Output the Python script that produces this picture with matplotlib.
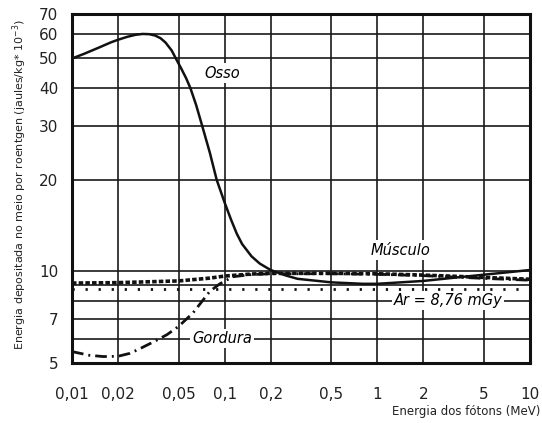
import matplotlib
matplotlib.use("Agg")
import matplotlib.pyplot as plt
from matplotlib.ticker import FixedLocator, FixedFormatter, NullLocator

# ---- data ----
osso_x = [0.01, 0.012, 0.015, 0.018, 0.02, 0.023, 0.026, 0.029, 0.032, 0.035, 0.038,
          0.041, 0.045, 0.0485, 0.052, 0.056, 0.0596, 0.065, 0.0713, 0.08, 0.0886,
          0.1, 0.11, 0.12, 0.13, 0.15, 0.17, 0.2, 0.25, 0.3, 0.5, 0.8, 1, 2, 3, 5, 10]
osso_y = [50, 51.8, 54.3, 56.5, 57.6, 58.9, 59.8, 60.2, 60.1, 59.5, 58.3,
          56.4, 53.1, 49.4, 46.3, 43, 40, 35.2, 30, 24.5, 20,
          16.8, 14.8, 13.3, 12.3, 11.2, 10.6, 10.1, 9.7, 9.45, 9.2, 9.1, 9.1, 9.3, 9.5, 9.75, 10.1]

musc_x = [0.01, 0.02, 0.05, 0.08, 0.1, 0.15, 0.2, 0.5, 1, 2, 5, 10]
musc_y = [9.15, 9.18, 9.3, 9.5, 9.65, 9.8, 9.85, 9.85, 9.82, 9.72, 9.55, 9.42]

gord_x = [0.01, 0.013, 0.016, 0.02, 0.024, 0.028, 0.035, 0.042, 0.05, 0.062, 0.08, 0.093,
          0.113, 0.15, 0.2, 0.5, 1, 2, 5, 10]
gord_y = [5.45, 5.3, 5.25, 5.26, 5.38, 5.58, 5.9, 6.2, 6.6, 7.3, 8.6, 9.1,
          9.6, 9.76, 9.82, 9.82, 9.78, 9.68, 9.48, 9.35]

ar_value = 8.76

x_ticks = [0.01, 0.02, 0.05, 0.1, 0.2, 0.5, 1, 2, 5, 10]
x_labels = ["0,01", "0,02", "0,05", "0,1", "0,2", "0,5", "1", "2", "5", "10"]
y_ticks = [5, 7, 10, 20, 30, 40, 50, 60, 70]
y_labels = ["5", "7", "10", "20", "30", "40", "50", "60", "70"]
y_grid = [6, 7, 8, 9, 10, 20, 30, 40, 50, 60]
x_grid = [0.02, 0.05, 0.1, 0.2, 0.5, 1, 2, 5]

plt.rcParams['font.family'] = ['DejaVu Sans']

fig = plt.figure(figsize=(5.42, 4.23), dpi=100)
ax = fig.add_axes([72/542, 60/423, 458/542, 349/423])
ax.set_xscale('log')
ax.set_yscale('log')
ax.set_xlim(0.01, 10)
ax.set_ylim(5, 70)

for g in y_grid:
    ax.axhline(g, color='#1a1a1a', lw=1.2, zorder=1)
for g in x_grid:
    ax.axvline(g, color='#1a1a1a', lw=1.2, zorder=1)

ax.plot(osso_x, osso_y, color='#111111', lw=1.8, zorder=3, solid_joinstyle='round')
ax.plot(musc_x, musc_y, color='#111111', lw=2.6, linestyle=(0, (1.25, 0.6)), zorder=3)
ax.plot(gord_x, gord_y, color='#111111', lw=2.0, linestyle=(0, (4.2, 1.8, 0.7, 1.8)), zorder=3)
ax.axhline(ar_value, color='#111111', lw=2.0, linestyle=(0, (0.8, 3.9)), zorder=3)

ax.xaxis.set_major_locator(FixedLocator(x_ticks))
ax.xaxis.set_major_formatter(FixedFormatter(x_labels))
ax.xaxis.set_minor_locator(NullLocator())
ax.yaxis.set_major_locator(FixedLocator(y_ticks))
ax.yaxis.set_major_formatter(FixedFormatter(y_labels))
ax.yaxis.set_minor_locator(NullLocator())
ax.tick_params(axis='both', length=0, labelsize=11, colors='#222222')
ax.tick_params(axis='x', pad=17)
ax.tick_params(axis='y', pad=10)

for s in ax.spines.values():
    s.set_linewidth(2.2)
    s.set_color('#111111')

box = dict(facecolor='white', edgecolor='none', pad=1.5)
ax.text(0.097, 44.8, "Osso", style='italic', fontsize=10.5, ha='center', va='center', bbox=box, zorder=4)
ax.text(1.41, 11.75, "Músculo", style='italic', fontsize=10.5, ha='center', va='center', bbox=box, zorder=4)
ax.text(2.9, 8.0, "Ar = 8,76 mGy", style='italic', fontsize=10.5, ha='center', va='center', bbox=box, zorder=4)
ax.text(0.096, 6.0, "Gordura", style='italic', fontsize=10.5, ha='center', va='center', bbox=box, zorder=4)

fig.text(540/542, 1 - 411/423, "Energia dos fótons (MeV)", fontsize=8.5, ha='right', va='center', color='#222222')
fig.text(20/542, 1 - 185/423, "Energia depositada no meio por roentgen (jaules/kg* 10$^{-3}$)",
         fontsize=8, rotation=90, ha='center', va='center', color='#222222')

fig.savefig("out.png", dpi=100)
